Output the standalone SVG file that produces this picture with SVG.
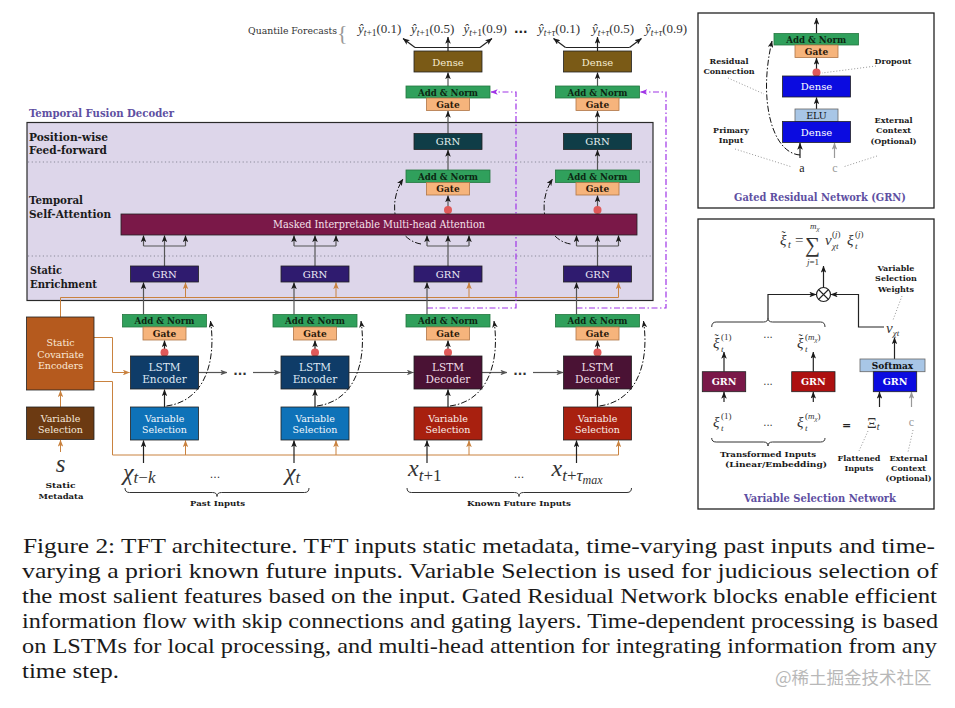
<svg xmlns="http://www.w3.org/2000/svg" width="955" height="708" viewBox="0 0 955 708">
<defs>
<style>
.t{font-family:"DejaVu Serif",serif;text-anchor:middle}
.b{font-weight:bold}
.an{fill:#30a05c;stroke:#23773f;stroke-width:0.8}
.gt{fill:#f6b47c;stroke:#b07648;stroke-width:0.8}
.ant{font-family:"DejaVu Serif",serif;text-anchor:middle;fill:#0b2612;font-size:10px;font-weight:bold}
.gtt{font-family:"DejaVu Serif",serif;text-anchor:middle;fill:#2a180a;font-size:9px;font-weight:bold}
.dot{fill:#e05a5a}
.bx{stroke:#222;stroke-width:0.8}
.ln{stroke:#222;stroke-width:1.2;fill:none}
.lg{stroke:#555;stroke-width:1.2;fill:none}
.lt{stroke:#999;stroke-width:1.2;fill:none}
.or{stroke:#c9823f;stroke-width:1;fill:none}
.dd{stroke:#111;stroke-width:1;fill:none;stroke-dasharray:6 2 1.5 2}
.pp{stroke:#a034e6;stroke-width:1.2;fill:none;stroke-dasharray:6 2.5 1.5 2.5}
.ld{stroke:#8a8a8a;stroke-width:0.9;stroke-dasharray:1 2;fill:none}
.m{font-family:"Liberation Serif",serif;font-style:italic;fill:#333}
.mu{font-family:"Liberation Serif",serif;font-style:normal;fill:#333}
.sl{font-family:"DejaVu Serif",serif;font-weight:bold;font-size:11px;fill:#1a1a1a}
.sm{font-family:"DejaVu Serif",serif;font-weight:bold;font-size:8px;fill:#1a1a1a;text-anchor:middle}
.cap{font-family:"Liberation Serif",serif;font-size:21.5px;fill:#1a1a1a}
</style>
<marker id="ak" viewBox="0 0 10 8" refX="9.5" refY="4" markerWidth="7" markerHeight="5.6" orient="auto" markerUnits="userSpaceOnUse"><path d="M0,0 L10,4 L0,8 L2.5,4 z" fill="#1a1a1a"/></marker>
<marker id="ag" viewBox="0 0 10 8" refX="9.5" refY="4" markerWidth="7" markerHeight="5.6" orient="auto" markerUnits="userSpaceOnUse"><path d="M0,0 L10,4 L0,8 L2.5,4 z" fill="#555"/></marker>
<marker id="ao" viewBox="0 0 10 8" refX="9.5" refY="4" markerWidth="7" markerHeight="5.6" orient="auto" markerUnits="userSpaceOnUse"><path d="M0,0 L10,4 L0,8 L2.5,4 z" fill="#c9823f"/></marker>
<marker id="ap" viewBox="0 0 10 8" refX="9.5" refY="4" markerWidth="7" markerHeight="5.6" orient="auto" markerUnits="userSpaceOnUse"><path d="M0,0 L10,4 L0,8 L2.5,4 z" fill="#a034e6"/></marker>
<marker id="al" viewBox="0 0 10 8" refX="9.5" refY="4" markerWidth="7" markerHeight="5.6" orient="auto" markerUnits="userSpaceOnUse"><path d="M0,0 L10,4 L0,8 L2.5,4 z" fill="#999"/></marker>
</defs>
<rect width="955" height="708" fill="#fff"/>

<g id="decoder-panel">
<text x="29" y="117" font-family="DejaVu Serif,serif" font-weight="bold" font-size="11.5" fill="#5e4fa2" textLength="145" lengthAdjust="spacingAndGlyphs">Temporal Fusion Decoder</text>
<rect x="27" y="122.5" width="626" height="178" fill="#ddd6ea" stroke="#2a2a2a" stroke-width="1.2"/>
<line x1="28" y1="162" x2="652" y2="162" stroke="#8a8a9a" stroke-width="1" stroke-dasharray="1.2 2.5"/>
<line x1="28" y1="256" x2="652" y2="256" stroke="#8a8a9a" stroke-width="1" stroke-dasharray="1.2 2.5"/>
<text class="sl" x="29" y="140.5" textLength="79" lengthAdjust="spacingAndGlyphs">Position-wise</text>
<text class="sl" x="29" y="154.3" textLength="78" lengthAdjust="spacingAndGlyphs">Feed-forward</text>
<text class="sl" x="29" y="204.3" textLength="54" lengthAdjust="spacingAndGlyphs">Temporal</text>
<text class="sl" x="29" y="218.3" textLength="82" lengthAdjust="spacingAndGlyphs">Self-Attention</text>
<text class="sl" x="30" y="274.3" textLength="32" lengthAdjust="spacingAndGlyphs">Static</text>
<text class="sl" x="30" y="287.7" textLength="67" lengthAdjust="spacingAndGlyphs">Enrichment</text>
</g>

<g id="connectors">
<path class="or" d="M60.5,317 V297.5 H618.5"/>
<path class="or" d="M94,337.5 H112.5 V372.5 H129.5" marker-end="url(#ao)"/>
<path class="or" d="M94,381.5 H112.5 V455 H618.5"/>
<path class="or" d="M60.5,407 V390.5" marker-end="url(#ao)"/>
<path class="or" d="M60.5,452 V440" marker-end="url(#ao)"/>
<path class="or" d="M185.5,455 V440.5" marker-end="url(#ao)"/>
<path class="or" d="M336,455 V440.5" marker-end="url(#ao)"/>
<path class="or" d="M469,455 V440.5" marker-end="url(#ao)"/>
<path class="or" d="M618.5,455 V440.5" marker-end="url(#ao)"/>
<path class="or" d="M185.5,297.5 V282.5" marker-end="url(#ao)"/>
<path class="or" d="M336,297.5 V282.5" marker-end="url(#ao)"/>
<path class="or" d="M469,297.5 V282.5" marker-end="url(#ao)"/>
<path class="or" d="M618.5,297.5 V282.5" marker-end="url(#ao)"/>
<path class="pp" d="M427,308 H516 V92 H491" marker-end="url(#ap)"/>
<path class="pp" d="M576.5,308 H666 V92 H640.5" marker-end="url(#ap)"/>
<path class="ln" d="M143.5,463 V440.5" marker-end="url(#ak)"/>
<path class="ln" d="M294,463 V440.5" marker-end="url(#ak)"/>
<path class="ln" d="M427,463 V440.5" marker-end="url(#ak)"/>
<path class="ln" d="M576.5,463 V440.5" marker-end="url(#ak)"/>
<path class="ln" d="M164.5,407 V389.5" marker-end="url(#ak)"/>
<path class="ln" d="M315,407 V389.5" marker-end="url(#ak)"/>
<path class="ln" d="M448,407 V389.5" marker-end="url(#ak)"/>
<path class="ln" d="M597.5,407 V389.5" marker-end="url(#ak)"/>
<path class="ln" d="M164.5,356 V340.5" marker-end="url(#ak)"/>
<path class="ln" d="M315,356 V340.5" marker-end="url(#ak)"/>
<path class="ln" d="M448,356 V340.5" marker-end="url(#ak)"/>
<path class="ln" d="M597.5,356 V340.5" marker-end="url(#ak)"/>
<path class="lg" d="M143.5,314.5 V282.5" marker-end="url(#ak)"/>
<path class="lg" d="M294,314.5 V282.5" marker-end="url(#ak)"/>
<path class="lg" d="M427,314.5 V282.5" marker-end="url(#ak)"/>
<path class="lg" d="M576.5,314.5 V282.5" marker-end="url(#ak)"/>
<path class="lg" d="M198.5,372.5 H227" marker-end="url(#ag)"/>
<path class="lg" d="M253,372.5 H280.5" marker-end="url(#ag)"/>
<path class="lg" d="M349,372.5 H413.5" marker-end="url(#ag)"/>
<path class="lg" d="M482,372.5 H507" marker-end="url(#ag)"/>
<path class="lg" d="M533,372.5 H563" marker-end="url(#ag)"/>
<path class="dd" d="M166.5,406 C204.5,401 216.5,362 210.5,321" marker-end="url(#ak)"/>
<path class="dd" d="M317,406 C355,401 367,362 361,321" marker-end="url(#ak)"/>
<path class="dd" d="M450,406 C488,401 500,362 494,321" marker-end="url(#ak)"/>
<path class="dd" d="M599.5,406 C637.5,401 649.5,362 643.5,321" marker-end="url(#ak)"/>
<path class="lg" d="M164.5,266 V235.5" marker-end="url(#ak)"/>
<path class="lg" d="M143.5,246 H185.5"/>
<path class="lg" d="M143.5,246 V235.5" marker-end="url(#ak)"/>
<path class="lg" d="M185.5,246 V235.5" marker-end="url(#ak)"/>
<path class="lg" d="M315,266 V235.5" marker-end="url(#ak)"/>
<path class="lg" d="M294,246 H336"/>
<path class="lg" d="M294,246 V235.5" marker-end="url(#ak)"/>
<path class="lg" d="M336,246 V235.5" marker-end="url(#ak)"/>
<path class="lg" d="M448,266 V235.5" marker-end="url(#ak)"/>
<path class="lg" d="M427,246 H469"/>
<path class="lg" d="M427,246 V235.5" marker-end="url(#ak)"/>
<path class="lg" d="M469,246 V235.5" marker-end="url(#ak)"/>
<path class="lg" d="M597.5,266 V235.5" marker-end="url(#ak)"/>
<path class="lg" d="M576.5,246 H618.5"/>
<path class="lg" d="M576.5,246 V235.5" marker-end="url(#ak)"/>
<path class="lg" d="M618.5,246 V235.5" marker-end="url(#ak)"/>
<path class="dd" d="M421,244 C396,240 386,205 403,179" marker-end="url(#ak)"/>
<path class="dd" d="M570.5,244 C545.5,240 535.5,205 552.5,179" marker-end="url(#ak)"/>
<path class="lg" d="M448,214 V195.5" marker-end="url(#ak)"/>
<path class="lg" d="M448,170 V150" marker-end="url(#ak)"/>
<path class="lg" d="M448,133.5 V111" marker-end="url(#ak)"/>
<path class="lg" d="M448,86 V72.5" marker-end="url(#ak)"/>
<path class="lg" d="M597.5,214 V195.5" marker-end="url(#ak)"/>
<path class="lg" d="M597.5,170 V150" marker-end="url(#ak)"/>
<path class="lg" d="M597.5,133.5 V111" marker-end="url(#ak)"/>
<path class="lg" d="M597.5,86 V72.5" marker-end="url(#ak)"/>
<path class="ln" d="M448,51 V37" marker-end="url(#ak)"/>
<path class="ln" d="M415,47.5 H480"/>
<path class="ln" d="M415,47.5 L403,38.5" marker-end="url(#ak)"/>
<path class="ln" d="M480,47.5 L492,38.5" marker-end="url(#ak)"/>
<path class="ln" d="M597.5,51 V37" marker-end="url(#ak)"/>
<path class="ln" d="M565.5,47.5 H629.5"/>
<path class="ln" d="M565.5,47.5 L553.5,38.5" marker-end="url(#ak)"/>
<path class="ln" d="M629.5,47.5 L641.5,38.5" marker-end="url(#ak)"/>
</g>

<g id="quantile-forecasts">
<text x="248" y="34" font-family="DejaVu Serif,serif" font-size="9" fill="#333" textLength="89" lengthAdjust="spacingAndGlyphs">Quantile Forecasts</text>
<text x="337" y="40" font-family="Liberation Serif,serif" font-size="22" fill="#999">{</text>
<text class="m" x="358" y="33" font-size="13">ŷ<tspan font-size="9.5" dy="3">t</tspan><tspan class="mu" font-size="9.5">+1</tspan><tspan class="mu" dy="-3">(0.1)</tspan></text>
<text class="m" x="411" y="33" font-size="13">ŷ<tspan font-size="9.5" dy="3">t</tspan><tspan class="mu" font-size="9.5">+1</tspan><tspan class="mu" dy="-3">(0.5)</tspan></text>
<text class="m" x="463.5" y="33" font-size="13">ŷ<tspan font-size="9.5" dy="3">t</tspan><tspan class="mu" font-size="9.5">+1</tspan><tspan class="mu" dy="-3">(0.9)</tspan></text>
<text x="514" y="33" font-family="DejaVu Sans,sans-serif" font-weight="bold" font-size="12" fill="#222">...</text>
<text class="m" x="538" y="33" font-size="13">ŷ<tspan font-size="9.5" dy="3">t</tspan><tspan class="mu" font-size="9.5">+</tspan><tspan font-size="9.5">τ</tspan><tspan class="mu" dy="-3">(0.1)</tspan></text>
<text class="m" x="592" y="33" font-size="13">ŷ<tspan font-size="9.5" dy="3">t</tspan><tspan class="mu" font-size="9.5">+</tspan><tspan font-size="9.5">τ</tspan><tspan class="mu" dy="-3">(0.5)</tspan></text>
<text class="m" x="645" y="33" font-size="13">ŷ<tspan font-size="9.5" dy="3">t</tspan><tspan class="mu" font-size="9.5">+</tspan><tspan font-size="9.5">τ</tspan><tspan class="mu" dy="-3">(0.9)</tspan></text>
</g>

<g id="dense-1">
<rect class="bx" x="414" y="51" width="68" height="21" fill="#7a5a16"/>
<text class="t" x="448" y="65.5" font-size="10" fill="#f5ebcf">Dense</text>
</g>
<g id="output-addnorm-1">
<rect class="an" x="406" y="86" width="84" height="12"/>
<text class="ant" x="448" y="95.5" textLength="60" lengthAdjust="spacingAndGlyphs">Add &amp; Norm</text>
<rect class="gt" x="426.5" y="98" width="43" height="12.5"/>
<text class="gtt" x="448" y="107.5">Gate</text>
</g>
<g id="ff-grn-1">
<rect class="bx" x="414" y="133.5" width="68" height="16" fill="#0f3d47"/>
<text class="t" x="448" y="145.3" font-size="10" fill="#e6f0f0">GRN</text>
</g>
<g id="attn-addnorm-1">
<rect class="an" x="406" y="170" width="84" height="12.5"/>
<text class="ant" x="448" y="179.8" textLength="60" lengthAdjust="spacingAndGlyphs">Add &amp; Norm</text>
<rect class="gt" x="426.5" y="182.5" width="43" height="12.5"/>
<text class="gtt" x="448" y="192">Gate</text>
<circle class="dot" cx="448" cy="210" r="4"/>
</g>

<g id="dense-2">
<rect class="bx" x="563.5" y="51" width="68" height="21" fill="#7a5a16"/>
<text class="t" x="597.5" y="65.5" font-size="10" fill="#f5ebcf">Dense</text>
</g>
<g id="output-addnorm-2">
<rect class="an" x="555.5" y="86" width="84" height="12"/>
<text class="ant" x="597.5" y="95.5" textLength="60" lengthAdjust="spacingAndGlyphs">Add &amp; Norm</text>
<rect class="gt" x="576" y="98" width="43" height="12.5"/>
<text class="gtt" x="597.5" y="107.5">Gate</text>
</g>
<g id="ff-grn-2">
<rect class="bx" x="563.5" y="133.5" width="68" height="16" fill="#0f3d47"/>
<text class="t" x="597.5" y="145.3" font-size="10" fill="#e6f0f0">GRN</text>
</g>
<g id="attn-addnorm-2">
<rect class="an" x="555.5" y="170" width="84" height="12.5"/>
<text class="ant" x="597.5" y="179.8" textLength="60" lengthAdjust="spacingAndGlyphs">Add &amp; Norm</text>
<rect class="gt" x="576" y="182.5" width="43" height="12.5"/>
<text class="gtt" x="597.5" y="192">Gate</text>
<circle class="dot" cx="597.5" cy="210" r="4"/>
</g>

<g id="attention">
<rect class="bx" x="121" y="214" width="516" height="21" fill="#7a1848"/>
<text class="t" x="379" y="228.3" font-size="10.5" fill="#f6e2ec" textLength="212" lengthAdjust="spacingAndGlyphs">Masked Interpretable Multi-head Attention</text>
</g>

<g id="se-grn-1"><rect class="bx" x="130.5" y="266" width="68" height="16" fill="#2f1b6f"/><text class="t" x="164.5" y="277.8" font-size="10" fill="#eeeaf8">GRN</text></g>
<g id="se-grn-2"><rect class="bx" x="281" y="266" width="68" height="16" fill="#2f1b6f"/><text class="t" x="315" y="277.8" font-size="10" fill="#eeeaf8">GRN</text></g>
<g id="se-grn-3"><rect class="bx" x="414" y="266" width="68" height="16" fill="#2f1b6f"/><text class="t" x="448" y="277.8" font-size="10" fill="#eeeaf8">GRN</text></g>
<g id="se-grn-4"><rect class="bx" x="563.5" y="266" width="68" height="16" fill="#2f1b6f"/><text class="t" x="597.5" y="277.8" font-size="10" fill="#eeeaf8">GRN</text></g>

<g id="lstm-addnorm-1"><rect class="an" x="122.5" y="314.5" width="84" height="12.5"/><text class="ant" x="164.5" y="324.3" textLength="60" lengthAdjust="spacingAndGlyphs">Add &amp; Norm</text><rect class="gt" x="143" y="327" width="43" height="13"/><text class="gtt" x="164.5" y="336.8">Gate</text><circle class="dot" cx="164.5" cy="352.5" r="4"/></g>
<g id="lstm-addnorm-2"><rect class="an" x="273" y="314.5" width="84" height="12.5"/><text class="ant" x="315" y="324.3" textLength="60" lengthAdjust="spacingAndGlyphs">Add &amp; Norm</text><rect class="gt" x="293.5" y="327" width="43" height="13"/><text class="gtt" x="315" y="336.8">Gate</text><circle class="dot" cx="315" cy="352.5" r="4"/></g>
<g id="lstm-addnorm-3"><rect class="an" x="406" y="314.5" width="84" height="12.5"/><text class="ant" x="448" y="324.3" textLength="60" lengthAdjust="spacingAndGlyphs">Add &amp; Norm</text><rect class="gt" x="426.5" y="327" width="43" height="13"/><text class="gtt" x="448" y="336.8">Gate</text><circle class="dot" cx="448" cy="352.5" r="4"/></g>
<g id="lstm-addnorm-4"><rect class="an" x="555.5" y="314.5" width="84" height="12.5"/><text class="ant" x="597.5" y="324.3" textLength="60" lengthAdjust="spacingAndGlyphs">Add &amp; Norm</text><rect class="gt" x="576" y="327" width="43" height="13"/><text class="gtt" x="597.5" y="336.8">Gate</text><circle class="dot" cx="597.5" cy="352.5" r="4"/></g>

<g id="lstm-encoder-1"><rect class="bx" x="130.5" y="356" width="68" height="33" fill="#0f3c68"/><text class="t" x="164.5" y="371" font-size="10.5" fill="#dde8f4">LSTM</text><text class="t" x="164.5" y="382.5" font-size="10.5" fill="#dde8f4">Encoder</text></g>
<g id="lstm-encoder-2"><rect class="bx" x="281" y="356" width="68" height="33" fill="#0f3c68"/><text class="t" x="315" y="371" font-size="10.5" fill="#dde8f4">LSTM</text><text class="t" x="315" y="382.5" font-size="10.5" fill="#dde8f4">Encoder</text></g>
<g id="lstm-decoder-1"><rect class="bx" x="414" y="356" width="68" height="33" fill="#4a1234"/><text class="t" x="448" y="371" font-size="10.5" fill="#f0dde6">LSTM</text><text class="t" x="448" y="382.5" font-size="10.5" fill="#f0dde6">Decoder</text></g>
<g id="lstm-decoder-2"><rect class="bx" x="563.5" y="356" width="68" height="33" fill="#4a1234"/><text class="t" x="597.5" y="371" font-size="10.5" fill="#f0dde6">LSTM</text><text class="t" x="597.5" y="382.5" font-size="10.5" fill="#f0dde6">Decoder</text></g>
<g id="lstm-dots">
<text x="240" y="375" font-family="DejaVu Sans,sans-serif" font-weight="bold" font-size="12" fill="#333" text-anchor="middle">...</text>
<text x="520" y="375" font-family="DejaVu Sans,sans-serif" font-weight="bold" font-size="12" fill="#333" text-anchor="middle">...</text>
</g>

<g id="vs-past-1"><rect class="bx" x="130.5" y="407" width="68" height="33" fill="#0e72b8"/><text class="t" x="164.5" y="421.5" font-size="9.5" fill="#f2f7fc">Variable</text><text class="t" x="164.5" y="433" font-size="9.5" fill="#f2f7fc">Selection</text></g>
<g id="vs-past-2"><rect class="bx" x="281" y="407" width="68" height="33" fill="#0e72b8"/><text class="t" x="315" y="421.5" font-size="9.5" fill="#f2f7fc">Variable</text><text class="t" x="315" y="433" font-size="9.5" fill="#f2f7fc">Selection</text></g>
<g id="vs-future-1"><rect class="bx" x="414" y="407" width="68" height="33" fill="#a8200f"/><text class="t" x="448" y="421.5" font-size="9.5" fill="#fbeeea">Variable</text><text class="t" x="448" y="433" font-size="9.5" fill="#fbeeea">Selection</text></g>
<g id="vs-future-2"><rect class="bx" x="563.5" y="407" width="68" height="33" fill="#a8200f"/><text class="t" x="597.5" y="421.5" font-size="9.5" fill="#fbeeea">Variable</text><text class="t" x="597.5" y="433" font-size="9.5" fill="#fbeeea">Selection</text></g>

<g id="static-covariate-encoders"><rect class="bx" x="26.5" y="317" width="67.5" height="73" fill="#b55a1e"/><text class="t" x="60.5" y="346" font-size="9.5" fill="#fbe9d8">Static</text><text class="t" x="60.5" y="357.5" font-size="9.5" fill="#fbe9d8">Covariate</text><text class="t" x="60.5" y="369" font-size="9.5" fill="#fbe9d8">Encoders</text></g>
<g id="vs-static"><rect class="bx" x="26.5" y="407" width="67.5" height="32.5" fill="#6c3a12"/><text class="t" x="60.5" y="421.5" font-size="9.5" fill="#f6e8da">Variable</text><text class="t" x="60.5" y="433" font-size="9.5" fill="#f6e8da">Selection</text></g>

<g id="static-metadata">
<text class="m" x="60.5" y="472" font-size="25" text-anchor="middle">s</text>
<text class="sm" x="60.5" y="488" font-size="9" textLength="30" lengthAdjust="spacingAndGlyphs">Static</text>
<text class="sm" x="61" y="499.3" font-size="9" textLength="45" lengthAdjust="spacingAndGlyphs">Metadata</text>
</g>
<g id="past-inputs">
<text class="m" x="123" y="480" font-size="24">χ<tspan font-size="17" dy="3">t</tspan><tspan class="mu" font-size="17">−</tspan><tspan font-size="17">k</tspan></text>
<text x="215" y="478" font-family="DejaVu Sans,sans-serif" font-size="11" fill="#333" text-anchor="middle">...</text>
<text class="m" x="285" y="480" font-size="24">χ<tspan font-size="17" dy="3">t</tspan></text>
<path d="M125,488 Q125,492.5 129.5,492.5 H212.5 Q217,492.5 217,496.5 Q217,492.5 221.5,492.5 H304.5 Q309,492.5 309,488" fill="none" stroke="#333" stroke-width="1"/>
<text class="sm" x="217.5" y="505.5" font-size="9" textLength="55" lengthAdjust="spacingAndGlyphs">Past Inputs</text>
</g>
<g id="known-future-inputs">
<text class="m" x="408" y="476" font-size="24">x<tspan font-size="17" dy="5">t</tspan><tspan class="mu" font-size="17">+1</tspan></text>
<text x="519" y="478" font-family="DejaVu Sans,sans-serif" font-size="11" fill="#333" text-anchor="middle">...</text>
<text class="m" x="551.5" y="476" font-size="24">x<tspan font-size="17" dy="5">t</tspan><tspan class="mu" font-size="17">+</tspan><tspan font-size="17">τ</tspan><tspan font-size="12" dy="3">max</tspan></text>
<path d="M407,488 Q407,492.5 411.5,492.5 H514.5 Q519,492.5 519,496.5 Q519,492.5 523.5,492.5 H627 Q631.5,492.5 631.5,488" fill="none" stroke="#333" stroke-width="1"/>
<text class="sm" x="519" y="505.5" font-size="9" textLength="104" lengthAdjust="spacingAndGlyphs">Known Future Inputs</text>
</g>

<g id="grn-panel">
<rect x="698" y="13" width="236" height="195" fill="#fff" stroke="#222" stroke-width="1.3"/>
<path class="ld" d="M728,78 L764,94"/>
<path class="ld" d="M876,66 L822,73"/>
<path class="ld" d="M735,149 L792,167"/>
<path class="ld" d="M877,156 L843,167"/>
<path class="ln" d="M816.5,33.5 V18" marker-end="url(#ak)"/>
<path class="ln" d="M816.5,76 V58" marker-end="url(#ak)"/>
<path class="ln" d="M816.5,109 V97.5" marker-end="url(#ak)"/>
<path class="ln" d="M800,158 V143" marker-end="url(#ak)"/>
<path class="lt" d="M834.5,158 V143" marker-end="url(#al)"/>
<path class="dd" d="M800,155 C772,153 758,100 772,41" marker-end="url(#ak)"/>
<rect class="an" x="774" y="33.5" width="84.5" height="11.5"/>
<text class="ant" x="816.2" y="43" textLength="60" lengthAdjust="spacingAndGlyphs">Add &amp; Norm</text>
<rect class="gt" x="795" y="45" width="43" height="12.5"/>
<text class="gtt" x="816.5" y="55">Gate</text>
<circle class="dot" cx="816.5" cy="72.5" r="4"/>
<rect class="bx" x="782.5" y="76" width="68" height="21" fill="#0b0be0"/>
<text class="t" x="816.5" y="90.3" font-size="10" fill="#fff">Dense</text>
<rect x="795" y="109" width="43" height="12.5" fill="#a8c6e6" stroke="#666" stroke-width="0.8"/>
<text class="t" x="816.5" y="119" font-size="9.5" fill="#111">ELU</text>
<rect class="bx" x="782.5" y="121.5" width="68" height="21" fill="#0b0be0"/>
<text class="t" x="816.5" y="135.8" font-size="10" fill="#fff">Dense</text>
<text x="802" y="172" font-family="Liberation Serif,serif" font-size="12" fill="#222" text-anchor="middle">a</text>
<text x="835" y="172" font-family="Liberation Serif,serif" font-size="12" fill="#999" text-anchor="middle">c</text>
<text class="sm" x="729" y="64.3">Residual</text>
<text class="sm" x="729" y="74.3">Connection</text>
<text class="sm" x="893" y="64.3">Dropout</text>
<text class="sm" x="731" y="132.7">Primary</text>
<text class="sm" x="731" y="142.7">Input</text>
<text class="sm" x="893.5" y="122.7">External</text>
<text class="sm" x="893.5" y="133.3">Context</text>
<text class="sm" x="893.5" y="144">(Optional)</text>
<text x="820" y="200.5" font-family="DejaVu Serif,serif" font-weight="bold" font-size="10.5" fill="#5e4fa2" text-anchor="middle" textLength="172" lengthAdjust="spacingAndGlyphs">Gated Residual Network (GRN)</text>
</g>

<g id="vsn-panel">
<rect x="698" y="219" width="236" height="290" fill="#fff" stroke="#222" stroke-width="1.3"/>
<text class="m" x="780" y="245" font-size="15">ξ<tspan class="mu" x="781.5" y="240" font-size="12">˜</tspan><tspan x="788" y="248" font-size="10">t</tspan><tspan class="mu" x="795" y="245">=</tspan><tspan class="mu" x="805" y="252" font-size="21">∑</tspan><tspan x="810" y="229" font-size="9">m</tspan><tspan font-size="7" dy="2">χ</tspan><tspan x="807" y="265" font-size="9">j</tspan><tspan class="mu" font-size="9">=1</tspan><tspan x="825" y="245">v</tspan><tspan class="mu" x="832" y="237" font-size="9">(</tspan><tspan font-size="9">j</tspan><tspan class="mu" font-size="9">)</tspan><tspan x="832" y="249" font-size="9">χt</tspan><tspan x="847" y="245">ξ</tspan><tspan class="mu" x="855" y="237" font-size="9">(</tspan><tspan font-size="9">j</tspan><tspan class="mu" font-size="9">)</tspan><tspan x="855" y="249" font-size="9">t</tspan></text>
<path class="ln" d="M823.5,287.5 V266" marker-end="url(#ak)"/>
<circle cx="823.5" cy="294.5" r="7" fill="#fff" stroke="#222" stroke-width="1.2"/>
<path d="M818.5,289.5 L828.5,299.5 M828.5,289.5 L818.5,299.5" stroke="#222" stroke-width="1.1"/>
<path class="ln" d="M768,318 V294.5 H816" marker-end="url(#ak)"/>
<path class="ln" d="M884,327 H858.5 V294.5 H831" marker-end="url(#ak)"/>
<path d="M711.7,327 Q711.7,322 716.2,322 H763.5 Q768,322 768,318 Q768,322 772.5,322 H820.5 Q825,322 825,327" fill="none" stroke="#333" stroke-width="1"/>
<text class="m" x="713" y="348" font-size="15">ξ<tspan class="mu" x="714.5" y="343" font-size="12">˜</tspan><tspan class="mu" x="721" y="340" font-size="9">(1)</tspan><tspan x="721" y="352" font-size="9">t</tspan></text>
<text x="768" y="338" font-family="DejaVu Sans,sans-serif" font-size="10" fill="#333" text-anchor="middle">...</text>
<text class="m" x="797" y="348" font-size="15">ξ<tspan class="mu" x="798.5" y="343" font-size="12">˜</tspan><tspan class="mu" x="805" y="340" font-size="9">(</tspan><tspan font-size="9">m</tspan><tspan font-size="7" dy="1.5">χ</tspan><tspan class="mu" font-size="9" dy="-1.5">)</tspan><tspan x="805" y="352" font-size="9">t</tspan></text>
<path class="ln" d="M724,371.7 V352" marker-end="url(#ak)"/>
<path class="ln" d="M813.3,371.7 V352" marker-end="url(#ak)"/>
<rect class="bx" x="702.3" y="371.7" width="43.4" height="20" fill="#7a1848"/>
<text class="t b" x="724" y="384.8" font-size="9.5" fill="#fff">GRN</text>
<text x="768" y="384.5" font-family="DejaVu Sans,sans-serif" font-size="10" fill="#333" text-anchor="middle">...</text>
<rect class="bx" x="791.7" y="371.7" width="43.3" height="20" fill="#ad1010"/>
<text class="t b" x="813.3" y="384.8" font-size="9.5" fill="#fff">GRN</text>
<path class="ln" d="M724,402 V392" marker-end="url(#ak)"/>
<path class="ln" d="M813.3,402 V392" marker-end="url(#ak)"/>
<text class="m" x="713" y="427" font-size="15">ξ<tspan class="mu" x="721" y="419" font-size="9">(1)</tspan><tspan x="721" y="431" font-size="9">t</tspan></text>
<text x="768" y="426" font-family="DejaVu Sans,sans-serif" font-size="10" fill="#333" text-anchor="middle">...</text>
<text class="m" x="797" y="427" font-size="15">ξ<tspan class="mu" x="805" y="419" font-size="9">(</tspan><tspan font-size="9">m</tspan><tspan font-size="7" dy="1.5">χ</tspan><tspan class="mu" font-size="9" dy="-1.5">)</tspan><tspan x="805" y="431" font-size="9">t</tspan></text>
<text x="846.7" y="429" font-family="DejaVu Sans,sans-serif" font-weight="bold" font-size="11" fill="#222" text-anchor="middle">=</text>
<text class="mu" x="867" y="428" font-size="15">Ξ<tspan class="m" font-size="10" dy="2">t</tspan></text>
<text x="911.5" y="426" font-family="Liberation Serif,serif" font-size="12" fill="#999" text-anchor="middle">c</text>
<path d="M711.7,438 Q711.7,442 716.2,442 H763.5 Q768,442 768,446 Q768,442 772.5,442 H820.5 Q825,442 825,438" fill="none" stroke="#333" stroke-width="1"/>
<text class="sm" x="768" y="457.3" textLength="96" lengthAdjust="spacingAndGlyphs">Transformed Inputs</text>
<text class="sm" x="776" y="466.8" textLength="102" lengthAdjust="spacingAndGlyphs">(Linear/Embedding)</text>
<text class="m" x="886" y="333" font-size="15">v<tspan font-size="9" dy="3">χt</tspan></text>
<path class="ln" d="M894.5,359 V337.5" marker-end="url(#ak)"/>
<rect x="860" y="359" width="65" height="12.7" fill="#a8c6e6" stroke="#666" stroke-width="0.8"/>
<text class="t b" x="892.5" y="369" font-size="9" fill="#111">Softmax</text>
<rect class="bx" x="873.3" y="371.7" width="43.4" height="20" fill="#0b0be0"/>
<text class="t b" x="895" y="384.8" font-size="9.5" fill="#fff">GRN</text>
<path class="ln" d="M879.5,407 V392" marker-end="url(#ak)"/>
<path class="lt" d="M911.5,407 V392" marker-end="url(#al)"/>
<path class="ld" d="M902,296 L893,320"/>
<path class="ld" d="M868,431 L859,451"/>
<path class="ld" d="M913,430 L908,452"/>
<text class="sm" x="896" y="271">Variable</text>
<text class="sm" x="896" y="281">Selection</text>
<text class="sm" x="896" y="291.5">Weights</text>
<text class="sm" x="859" y="460.7">Flattened</text>
<text class="sm" x="859" y="470.5">Inputs</text>
<text class="sm" x="908.5" y="460.7">External</text>
<text class="sm" x="908.5" y="470.7">Context</text>
<text class="sm" x="908.5" y="481">(Optional)</text>
<text x="820" y="502.3" font-family="DejaVu Serif,serif" font-weight="bold" font-size="10.5" fill="#5e4fa2" text-anchor="middle" textLength="152" lengthAdjust="spacingAndGlyphs">Variable Selection Network</text>
</g>

<g id="caption">
<text class="cap" x="23" y="553" textLength="912" lengthAdjust="spacingAndGlyphs">Figure 2: TFT architecture. TFT inputs static metadata, time-varying past inputs and time-</text>
<text class="cap" x="22" y="578" textLength="916" lengthAdjust="spacingAndGlyphs">varying a priori known future inputs. Variable Selection is used for judicious selection of</text>
<text class="cap" x="22" y="603.3" textLength="915" lengthAdjust="spacingAndGlyphs">the most salient features based on the input. Gated Residual Network blocks enable efficient</text>
<text class="cap" x="22" y="628.3" textLength="916" lengthAdjust="spacingAndGlyphs">information flow with skip connections and gating layers. Time-dependent processing is based</text>
<text class="cap" x="22" y="653.3" textLength="915" lengthAdjust="spacingAndGlyphs">on LSTMs for local processing, and multi-head attention for integrating information from any</text>
<text class="cap" x="22" y="678.3" textLength="97" lengthAdjust="spacingAndGlyphs">time step.</text>
<text x="775" y="684" font-family="Noto Sans CJK SC,sans-serif" font-size="17.5" fill="#b8b8b8">@稀土掘金技术社区</text>
</g>
</svg>
